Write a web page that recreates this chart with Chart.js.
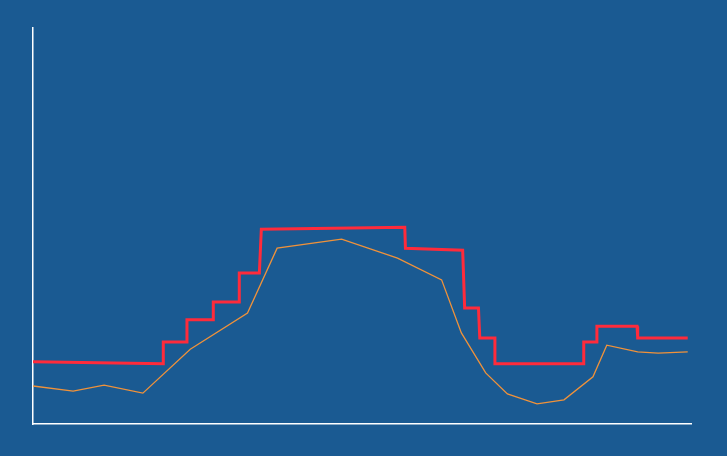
<!DOCTYPE html>
<html>
<head>
<meta charset="utf-8">
<script src="https://cdn.jsdelivr.net/npm/chart.js@4/dist/chart.umd.min.js"></script>
<style>
  html, body { margin: 0; padding: 0; background: #1a5a92; }
  #wrap { width: 727px; height: 456px; }
</style>
</head>
<body>
<div id="wrap"><canvas id="stepChart"></canvas></div>
<script>
// red stepped series (x, y pairs in axis units)
var redX = [0, 19.8, 19.8, 23.4, 23.4, 27.4, 27.4, 31.35, 31.35, 34.4, 34.7, 56.5, 56.6, 65.3, 65.6, 67.7, 67.9, 70.2, 70.2, 83.7, 83.7, 85.7, 85.7, 91.8, 91.9, 99.5];
var redY = [15.7, 15.2, 20.7, 20.7, 26.3, 26.3, 30.8, 30.8, 38.1, 38.1, 49.2, 49.7, 44.4, 43.9, 29.3, 29.3, 21.7, 21.7, 15.2, 15.2, 20.7, 20.7, 24.7, 24.7, 21.7, 21.7];

// orange series
var orangeX = [0, 6.1, 10.8, 16.7, 23.9, 32.6, 37.1, 46.9, 55.4, 62.1, 65.1, 68.8, 72.1, 76.6, 80.7, 85.1, 87.2, 91.9, 95.0, 99.5];
var orangeY = [9.6, 8.3, 9.8, 7.8, 18.9, 28.0, 44.4, 46.7, 41.9, 36.4, 23.0, 12.9, 7.6, 5.1, 6.1, 11.9, 19.9, 18.2, 17.9, 18.2];

function toPoints(xs, ys) {
	return xs.map(function(x, i){ return {x: x, y: ys[i]}; });
}

var ctx = document.getElementById('stepChart').getContext('2d');
var chart = new Chart(ctx, {
	type: 'line',
	data: {
		datasets: [{
			data: toPoints(redX, redY),
			borderColor: '#ff2b3b',
			borderWidth: 3,
			pointRadius: 0,
			tension: 0,
			fill: false
		}, {
			data: toPoints(orangeX, orangeY),
			borderColor: '#f0923a',
			borderWidth: 1.3,
			pointRadius: 0,
			tension: 0,
			fill: false
		}]
	},
	options: {
		responsive: true,
		maintainAspectRatio: false,
		animation: false,
		layout: {
			padding: {left: 33, right: 36, top: 28, bottom: 32}
		},
		plugins: {
			legend: { display: false },
			tooltip: { enabled: false }
		},
		scales: {
			x: {
				type: 'linear',
				min: 0,
				max: 100,
				ticks: { display: false },
				grid: { display: false, drawTicks: false },
				border: { display: true, color: '#ffffff', width: 1.5 }
			},
			y: {
				min: 0,
				max: 100,
				ticks: { display: false },
				grid: { display: false, drawTicks: false },
				border: { display: true, color: '#ffffff', width: 1.5 }
			}
		}
	}
});
</script>
</body>
</html>
